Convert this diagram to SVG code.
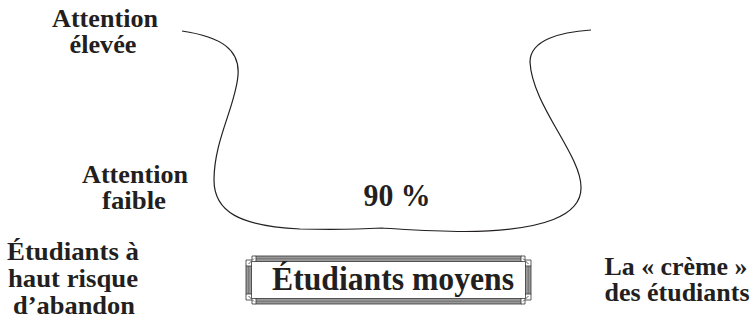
<svg xmlns="http://www.w3.org/2000/svg" width="756" height="322" viewBox="0 0 756 322">
<style>
text{font-family:"Liberation Serif","Times New Roman",serif;font-weight:bold;fill:#231f20;text-anchor:middle}
.lbl{font-size:26px}
.curve{fill:none;stroke:#231f20;stroke-width:1.2}
.band{fill:#9a9a9a;stroke:#333;stroke-width:0.8}
.mid{stroke:#555;stroke-width:0.6;fill:none}
.orn{fill:none;stroke:#333;stroke-width:0.8}
</style>
<rect width="756" height="322" fill="#fff"/>
<g id="curve">
<path class="curve" d="M182,31 C222,37 240,50 238,75 C236,105 214,140 214,180 C214,212 240,226 300,229 C340,230 365,229 382,228 C400,229 430,231.5 465,231.5 C545,231 582,215 581,187 C581,155 532,105 530,62 C530,40 560,32 591,30"/>
</g>
<g id="label-attention-elevee">
<text class="lbl" x="105" y="27" textLength="106" lengthAdjust="spacingAndGlyphs">Attention</text>
<text class="lbl" x="103" y="53" textLength="67" lengthAdjust="spacingAndGlyphs">élevée</text>
</g>
<g id="label-attention-faible">
<text class="lbl" x="135" y="183" textLength="106" lengthAdjust="spacingAndGlyphs">Attention</text>
<text class="lbl" x="134" y="209" textLength="64" lengthAdjust="spacingAndGlyphs">faible</text>
</g>
<g id="label-90">
<text x="397" y="206" font-size="31" textLength="67" lengthAdjust="spacingAndGlyphs">90 %</text>
</g>
<g id="label-risque">
<text class="lbl" x="73" y="260" textLength="132" lengthAdjust="spacingAndGlyphs">Étudiants à</text>
<text class="lbl" x="73" y="287" textLength="130" lengthAdjust="spacingAndGlyphs">haut risque</text>
<text class="lbl" x="74" y="314" textLength="122" lengthAdjust="spacingAndGlyphs">d’abandon</text>
</g>
<g id="label-creme">
<text class="lbl" x="676" y="275" textLength="143" lengthAdjust="spacingAndGlyphs">La « crème »</text>
<text class="lbl" x="677" y="301" textLength="145" lengthAdjust="spacingAndGlyphs">des étudiants</text>
</g>
<g id="box-moyens">
<rect class="band" x="256" y="256" width="265" height="5.5"/>
<rect class="band" x="256" y="298.5" width="265" height="5.5"/>
<rect class="band" x="246" y="266" width="5.5" height="28"/>
<rect class="band" x="525.5" y="266" width="5.5" height="28"/>
<path class="mid" d="M256,258.75 H521 M256,301.25 H521 M248.75,266 V294 M528.25,266 V294"/>
<path class="orn" d="M246,266 V260 H252 V256 H256 M251.5,266 V261.5 H256 M248.5,264 L254,258.5"/>
<path class="orn" d="M531,266 V260 H525 V256 H521 M525.5,266 V261.5 H521 M528.5,264 L523,258.5"/>
<path class="orn" d="M246,294 V300 H252 V304 H256 M251.5,294 V298.5 H256 M248.5,296 L254,301.5"/>
<path class="orn" d="M531,294 V300 H525 V304 H521 M525.5,294 V298.5 H521 M528.5,296 L523,301.5"/>
<text x="393" y="290" font-size="34" textLength="242" lengthAdjust="spacingAndGlyphs">Étudiants moyens</text>
</g>
</svg>
